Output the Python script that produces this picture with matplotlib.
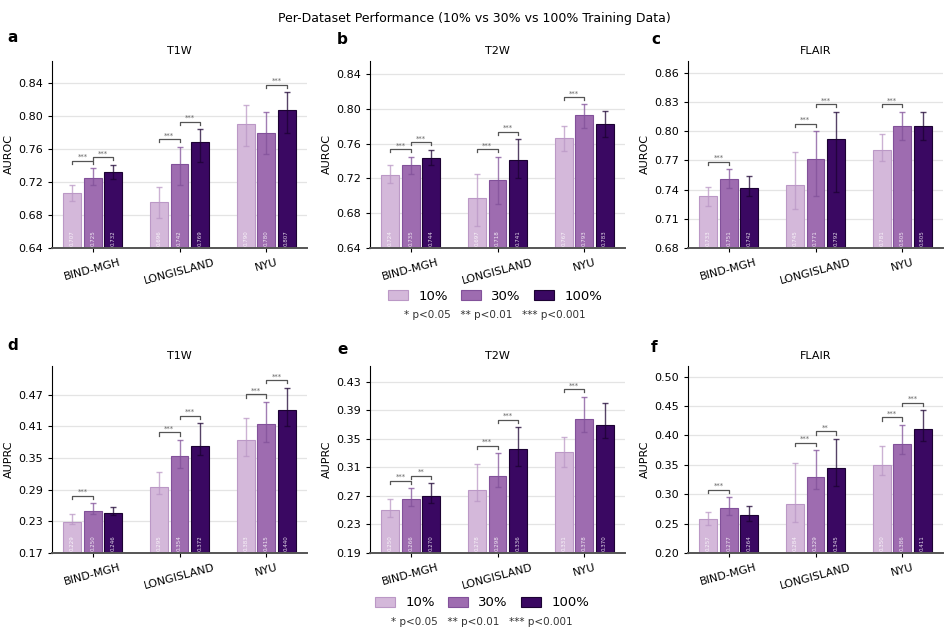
import matplotlib
matplotlib.use("Agg")
import matplotlib.pyplot as plt
import numpy as np
from matplotlib.patches import Patch

# datasets / training fractions
sites = ['BIND-MGH', 'LONGISLAND', 'NYU']
fractions = ['10%', '30%', '100%']
colors = ['#d4b8da', '#9e6cb0', '#3a0862']
edges = ['#bb98c6', '#82519a', '#1c0233']

# mean [site][fraction], CI low / high
auroc_t1w = [[0.707, 0.725, 0.732], [0.696, 0.742, 0.769], [0.790, 0.780, 0.807]]
auroc_t1w_lo = [[0.697, 0.716, 0.724], [0.677, 0.717, 0.744], [0.764, 0.754, 0.780]]
auroc_t1w_hi = [[0.716, 0.737, 0.741], [0.714, 0.763, 0.784], [0.813, 0.805, 0.829]]

auroc_t2w = [[0.724, 0.735, 0.744], [0.697, 0.718, 0.741], [0.767, 0.793, 0.783]]
auroc_t2w_lo = [[0.715, 0.725, 0.735], [0.665, 0.691, 0.720], [0.752, 0.778, 0.768]]
auroc_t2w_hi = [[0.735, 0.745, 0.753], [0.725, 0.745, 0.765], [0.780, 0.805, 0.797]]

auroc_flair = [[0.733, 0.751, 0.742], [0.745, 0.771, 0.792], [0.781, 0.805, 0.805]]
auroc_flair_lo = [[0.723, 0.742, 0.733], [0.720, 0.733, 0.738], [0.769, 0.791, 0.791]]
auroc_flair_hi = [[0.743, 0.761, 0.754], [0.779, 0.800, 0.820], [0.797, 0.820, 0.820]]

auprc_t1w = [[0.229, 0.250, 0.246], [0.295, 0.354, 0.372], [0.383, 0.415, 0.440]]
auprc_t1w_lo = [[0.224, 0.243, 0.241], [0.281, 0.331, 0.356], [0.353, 0.381, 0.410]]
auprc_t1w_hi = [[0.244, 0.264, 0.258], [0.324, 0.384, 0.416], [0.426, 0.456, 0.483]]

auprc_t2w = [[0.250, 0.266, 0.270], [0.278, 0.298, 0.336], [0.331, 0.378, 0.370]]
auprc_t2w_lo = [[0.241, 0.256, 0.260], [0.263, 0.282, 0.312], [0.311, 0.359, 0.351]]
auprc_t2w_hi = [[0.266, 0.281, 0.288], [0.315, 0.330, 0.366], [0.353, 0.409, 0.400]]

auprc_flair = [[0.257, 0.277, 0.264], [0.284, 0.329, 0.345], [0.350, 0.386, 0.411]]
auprc_flair_lo = [[0.248, 0.265, 0.254], [0.252, 0.308, 0.314], [0.333, 0.369, 0.390]]
auprc_flair_hi = [[0.269, 0.295, 0.280], [0.353, 0.375, 0.394], [0.382, 0.418, 0.443]]

# significance brackets: (site, frac i, frac j, label)
sig_a = [(0, 0, 1, '***'), (0, 1, 2, '***'), (1, 0, 1, '***'), (1, 1, 2, '***'), (2, 1, 2, '***')]
sig_b = [(0, 0, 1, '***'), (0, 1, 2, '***'), (1, 0, 1, '***'), (1, 1, 2, '***'), (2, 0, 1, '***')]
sig_c = [(0, 0, 1, '***'), (1, 0, 1, '***'), (1, 1, 2, '***'), (2, 0, 1, '***')]
sig_d = [(0, 0, 1, '***'), (1, 0, 1, '***'), (1, 1, 2, '***'), (2, 0, 1, '***'), (2, 1, 2, '***')]
sig_e = [(0, 0, 1, '***'), (0, 1, 2, '**'), (1, 0, 1, '***'), (1, 1, 2, '***'), (2, 0, 1, '***')]
sig_f = [(0, 0, 1, '***'), (1, 0, 1, '***'), (1, 1, 2, '**'), (2, 0, 1, '***'), (2, 1, 2, '***')]

panels = [
    ('a', 'T1W', 'AUROC', auroc_t1w, auroc_t1w_lo, auroc_t1w_hi, sig_a, (0.64, 0.867), np.arange(0.64, 0.841, 0.04)),
    ('b', 'T2W', 'AUROC', auroc_t2w, auroc_t2w_lo, auroc_t2w_hi, sig_b, (0.64, 0.855), np.arange(0.64, 0.841, 0.04)),
    ('c', 'FLAIR', 'AUROC', auroc_flair, auroc_flair_lo, auroc_flair_hi, sig_c, (0.68, 0.872), np.arange(0.68, 0.861, 0.03)),
    ('d', 'T1W', 'AUPRC', auprc_t1w, auprc_t1w_lo, auprc_t1w_hi, sig_d, (0.17, 0.524), np.arange(0.17, 0.471, 0.06)),
    ('e', 'T2W', 'AUPRC', auprc_t2w, auprc_t2w_lo, auprc_t2w_hi, sig_e, (0.19, 0.452), np.arange(0.19, 0.431, 0.04)),
    ('f', 'FLAIR', 'AUPRC', auprc_flair, auprc_flair_lo, auprc_flair_hi, sig_f, (0.20, 0.518), np.arange(0.20, 0.501, 0.05)),
]

W, H = 949, 636
fig = plt.figure(figsize=(W / 100, H / 100), dpi=100)
plt.rcParams['font.family'] = 'DejaVu Sans'

lefts = [52, 370, 688]
tops = [61, 366]
aw, ah = 255, 187
letter_pos = [(7, 38), (337, 39), (651, 40), (7, 346), (337, 349), (651, 348)]

offs = [-0.235, 0.0, 0.235]
bw = 0.205
x = np.arange(len(sites))

for k, (letter, title, ylab, mean, lo, hi, sigs, ylim, ticks) in enumerate(panels):
    r, c = divmod(k, 3)
    ax = fig.add_axes([lefts[c] / W, 1 - (tops[r] + ah) / H, aw / W, ah / H])
    mean = np.array(mean); lo = np.array(lo); hi = np.array(hi)
    ax.set_ylim(*ylim)
    rng = ylim[1] - ylim[0]
    for j in range(3):
        xs = x + offs[j]
        ax.bar(xs, mean[:, j] - ylim[0], bottom=ylim[0], width=bw, color=colors[j],
               edgecolor=edges[j], linewidth=0.8, zorder=2)
        ax.errorbar(xs, mean[:, j], yerr=[mean[:, j] - lo[:, j], hi[:, j] - mean[:, j]],
                    fmt='none', ecolor=edges[j], elinewidth=1, capsize=2.5, capthick=1,
                    alpha=0.75, zorder=3)
        for xi, v in zip(xs, mean[:, j]):
            ax.text(xi, ylim[0] + 0.012 * rng, f'{v:.3f}', rotation=90, ha='center', va='bottom',
                    fontsize=4, color='white', alpha=0.85, zorder=4)
    for (s, i, j, lab) in sigs:
        x1, x2 = x[s] + offs[i], x[s] + offs[j]
        yb = max(hi[s, i], hi[s, j]) + 0.04 * rng
        d = 0.017 * rng
        ax.plot([x1, x1, x2, x2], [yb - d, yb, yb, yb - d], color='#555555', lw=0.9, zorder=4)
        ax.text((x1 + x2) / 2, yb + 0.004 * rng, lab, ha='center', va='bottom', fontsize=5,
                color='#666666')
    ax.set_yticks(ticks)
    ax.set_yticklabels([f'{t:.2f}' for t in ticks])
    ax.set_xticks(x)
    ax.set_xticklabels(sites, rotation=15)
    ax.set_xlim(-0.47, 2.47)
    ax.tick_params(labelsize=8, length=3, width=0.8)
    ax.set_ylabel(ylab, fontsize=8, labelpad=3)
    ax.set_title(title, fontsize=8, pad=5)
    ax.grid(axis='y', color='#e4e4e4', lw=0.9, zorder=0)
    ax.set_axisbelow(True)
    for sp in ['top', 'right']:
        ax.spines[sp].set_visible(False)
    ax.spines['left'].set_linewidth(0.8)
    ax.spines['bottom'].set_linewidth(1.4)
    ax.spines['bottom'].set_color('#555555')
    lx, ly = letter_pos[k]
    fig.text(lx / W, 1 - ly / H, letter, fontsize=11, fontweight='bold', va='center', ha='left')

handles = [Patch(facecolor=colors[j], edgecolor=edges[j], linewidth=0.8, label=fractions[j]) for j in range(3)]
for cx, cy, ty in [(495, 296, 315), (482, 603, 622)]:
    fig.legend(handles=handles, loc='center', bbox_to_anchor=(cx / W, 1 - cy / H), ncol=3,
               frameon=False, fontsize=9.5, handlelength=1.5, handleheight=0.8,
               handletextpad=0.8, columnspacing=1.0)
    fig.text(cx / W, 1 - ty / H, '* p<0.05   ** p<0.01   *** p<0.001', ha='center', va='center',
             fontsize=7.5, color='#333333')

fig.suptitle('Per-Dataset Performance (10% vs 30% vs 100% Training Data)', y=1 - 12 / H, fontsize=9)

fig.savefig('out.png', dpi=100)
